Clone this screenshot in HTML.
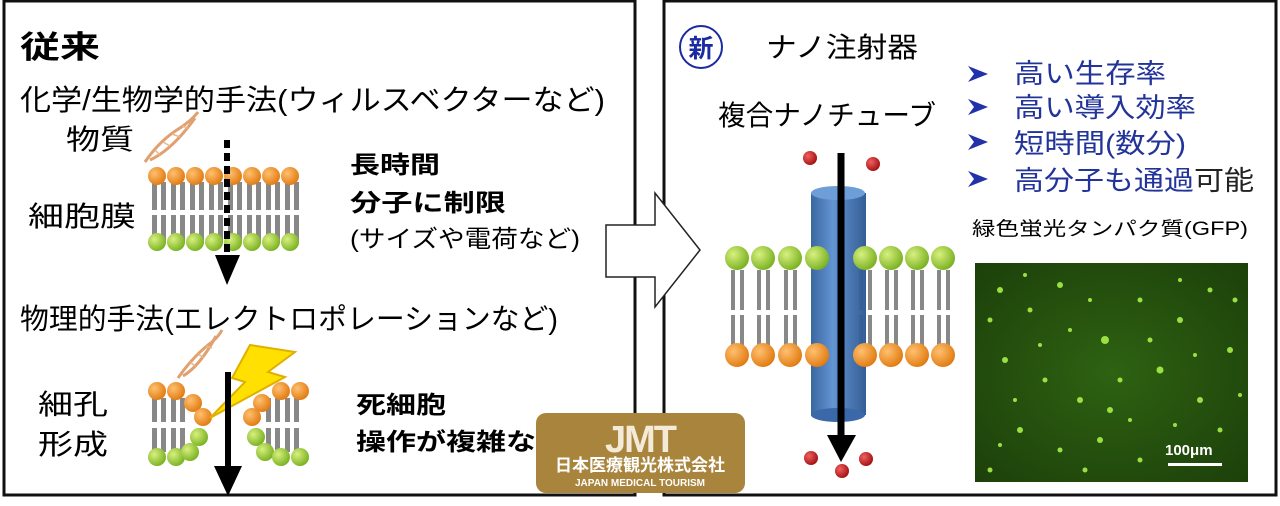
<!DOCTYPE html>
<html><head><meta charset="utf-8"><style>
body{margin:0;width:1280px;height:501px;background:#fff;overflow:hidden;font-family:"Liberation Sans","Noto Sans CJK JP",sans-serif;}
svg text{font-family:"Liberation Sans","Noto Sans CJK JP",sans-serif;}
</style></head><body>
<svg width="1280" height="501" viewBox="0 0 1280 501" xmlns="http://www.w3.org/2000/svg">
<defs>
<radialGradient id="og" cx="0.35" cy="0.35" r="0.7"><stop offset="0" stop-color="#ffc070"/><stop offset="1" stop-color="#e07a10"/></radialGradient>
<radialGradient id="gg" cx="0.35" cy="0.35" r="0.7"><stop offset="0" stop-color="#d8f080"/><stop offset="1" stop-color="#78b020"/></radialGradient>
<radialGradient id="rg" cx="0.35" cy="0.35" r="0.7"><stop offset="0" stop-color="#f06060"/><stop offset="1" stop-color="#a01010"/></radialGradient>
<linearGradient id="cyl" x1="0" x2="1"><stop offset="0" stop-color="#2f5f9a"/><stop offset="0.4" stop-color="#5b8fd0"/><stop offset="1" stop-color="#2a5590"/></linearGradient>
<radialGradient id="gfp" cx="0.5" cy="0.5" r="0.7"><stop offset="0" stop-color="#2e6212"/><stop offset="1" stop-color="#1c400a"/></radialGradient>
</defs>
<rect x="4" y="1" width="631" height="494" fill="#fff" stroke="#111" stroke-width="3"/>
<rect x="664" y="1" width="612" height="494" fill="#fff" stroke="#111" stroke-width="3"/>
<path d="M606 225 H655 V193 L700 250 L655 307 V277 H606 Z" fill="#fff" stroke="#222" stroke-width="1.5"/>

<text x="20" y="58" font-size="31" font-weight="bold" textLength="80" lengthAdjust="spacingAndGlyphs">従来</text>
<text x="20" y="110" font-size="29" textLength="585" lengthAdjust="spacingAndGlyphs">化学/生物学的手法(ウィルスベクターなど)</text>
<text x="66" y="149" font-size="28" textLength="68" lengthAdjust="spacingAndGlyphs">物質</text>
<text x="28" y="226" font-size="28" textLength="108" lengthAdjust="spacingAndGlyphs">細胞膜</text>
<text x="350" y="173" font-size="24" font-weight="bold" textLength="90" lengthAdjust="spacingAndGlyphs">長時間</text>
<text x="350" y="211" font-size="24" font-weight="bold" textLength="156" lengthAdjust="spacingAndGlyphs">分子に制限</text>
<text x="350" y="247" font-size="24" textLength="230" lengthAdjust="spacingAndGlyphs">(サイズや電荷など)</text>
<text x="20" y="329" font-size="29" textLength="538" lengthAdjust="spacingAndGlyphs">物理的手法(エレクトロポレーションなど)</text>
<text x="38" y="414" font-size="28" textLength="70" lengthAdjust="spacingAndGlyphs">細孔</text>
<text x="38" y="454" font-size="28" textLength="70" lengthAdjust="spacingAndGlyphs">形成</text>
<text x="356" y="413" font-size="24" font-weight="bold" textLength="90" lengthAdjust="spacingAndGlyphs">死細胞</text>
<text x="356" y="450" font-size="24" font-weight="bold" textLength="180" lengthAdjust="spacingAndGlyphs">操作が複雑な</text>

<g stroke="#e0a070" stroke-width="3" fill="none">
<path d="M145 162 Q160 140 180 128 Q192 120 198 112"/><path d="M150 160 Q172 150 195 118"/>
<path d="M178 378 Q192 358 208 345 Q218 338 222 330"/><path d="M183 376 Q200 366 216 336"/>
</g>
<g stroke="#e8b888" stroke-width="1.5"><line x1="155" y1="150" x2="160" y2="155"/><line x1="163" y1="142" x2="170" y2="146"/><line x1="172" y1="134" x2="180" y2="137"/><line x1="182" y1="126" x2="188" y2="128"/><line x1="190" y1="362" x2="195" y2="366"/><line x1="198" y1="354" x2="204" y2="358"/><line x1="206" y1="346" x2="212" y2="348"/></g>

<g id="m1"><g fill="#888">
<rect x="152" y="182" width="5" height="28"/><rect x="161" y="182" width="5" height="28"/>
<rect x="171" y="182" width="5" height="28"/><rect x="180" y="182" width="5" height="28"/>
<rect x="190" y="182" width="5" height="28"/><rect x="199" y="182" width="5" height="28"/>
<rect x="209" y="182" width="5" height="28"/><rect x="218" y="182" width="5" height="28"/>
<rect x="228" y="182" width="5" height="28"/><rect x="237" y="182" width="5" height="28"/>
<rect x="247" y="182" width="5" height="28"/><rect x="256" y="182" width="5" height="28"/>
<rect x="266" y="182" width="5" height="28"/><rect x="275" y="182" width="5" height="28"/>
<rect x="285" y="182" width="5" height="28"/><rect x="294" y="182" width="5" height="28"/>
</g></g>
<use href="#m1" y="33"/>
<g fill="url(#og)">
<circle cx="157" cy="176" r="9"/><circle cx="176" cy="176" r="9"/><circle cx="195" cy="176" r="9"/><circle cx="214" cy="176" r="9"/><circle cx="233" cy="176" r="9"/><circle cx="252" cy="176" r="9"/><circle cx="271" cy="176" r="9"/><circle cx="290" cy="176" r="9"/>
</g>
<g fill="url(#gg)">
<circle cx="157" cy="242" r="9"/><circle cx="176" cy="242" r="9"/><circle cx="195" cy="242" r="9"/><circle cx="214" cy="242" r="9"/><circle cx="233" cy="242" r="9"/><circle cx="252" cy="242" r="9"/><circle cx="271" cy="242" r="9"/><circle cx="290" cy="242" r="9"/>
</g>
<line x1="227" y1="140" x2="227" y2="258" stroke="#000" stroke-width="6" stroke-dasharray="8,5"/>
<path d="M215 255 H240 L227 285 Z" fill="#000"/>

<g fill="#888">
<rect x="152" y="398" width="5" height="24"/><rect x="161" y="398" width="5" height="24"/>
<rect x="171" y="398" width="5" height="24"/><rect x="180" y="398" width="5" height="24"/>
<rect x="152" y="428" width="5" height="24"/><rect x="161" y="428" width="5" height="24"/>
<rect x="171" y="428" width="5" height="24"/><rect x="180" y="428" width="5" height="24"/>
<rect x="285" y="398" width="5" height="24"/><rect x="294" y="398" width="5" height="24"/>
<rect x="266" y="398" width="5" height="24"/><rect x="275" y="398" width="5" height="24"/>
<rect x="285" y="428" width="5" height="24"/><rect x="294" y="428" width="5" height="24"/>
<rect x="266" y="428" width="5" height="24"/><rect x="275" y="428" width="5" height="24"/>
</g>
<g fill="url(#og)"><circle cx="157" cy="391" r="9"/><circle cx="176" cy="391" r="9"/><circle cx="193" cy="403" r="9"/><circle cx="203" cy="417" r="9"/><circle cx="252" cy="417" r="9"/><circle cx="262" cy="403" r="9"/><circle cx="281" cy="391" r="9"/><circle cx="300" cy="391" r="9"/></g>
<g fill="url(#gg)"><circle cx="157" cy="457" r="9"/><circle cx="176" cy="457" r="9"/><circle cx="199" cy="437" r="9"/><circle cx="190" cy="452" r="9"/><circle cx="256" cy="437" r="9"/><circle cx="265" cy="452" r="9"/><circle cx="281" cy="457" r="9"/><circle cx="300" cy="457" r="9"/></g>
<path d="M250 345 L295 352 L268 372 L285 377 L210 418 L245 382 L232 378 Z" fill="#ffe000" stroke="#e0b000" stroke-width="2"/>
<line x1="228" y1="372" x2="228" y2="470" stroke="#000" stroke-width="6"/>
<path d="M214 466 H242 L228 496 Z" fill="#000"/>

<circle cx="701" cy="47" r="21" fill="#fff" stroke="#1a2aa0" stroke-width="2"/>
<text x="701" y="57" font-size="25" font-weight="bold" fill="#1a2aa0" text-anchor="middle">新</text>
<text x="766" y="57" font-size="28" textLength="152" lengthAdjust="spacingAndGlyphs">ナノ注射器</text>
<text x="718" y="125" font-size="28" textLength="218" lengthAdjust="spacingAndGlyphs">複合ナノチューブ</text>
<g font-size="27" fill="#223399">
<text x="1014" y="83" textLength="152" lengthAdjust="spacingAndGlyphs">高い生存率</text>
<text x="1014" y="117" textLength="182" lengthAdjust="spacingAndGlyphs">高い導入効率</text>
<text x="1014" y="153" textLength="172" lengthAdjust="spacingAndGlyphs">短時間(数分)</text>
<text x="1014" y="190" textLength="240" lengthAdjust="spacingAndGlyphs">高分子も通過<tspan fill="#222">可能</tspan></text>
</g>
<g fill="#2233aa">
<path d="M968 66 L988 74 L968 82 L974 74 Z"/><path d="M968 99 L988 107 L968 115 L974 107 Z"/>
<path d="M968 134 L988 142 L968 150 L974 142 Z"/><path d="M968 171 L988 179 L968 187 L974 179 Z"/>
</g>
<text x="972" y="235" font-size="19" textLength="276" lengthAdjust="spacingAndGlyphs">緑色蛍光タンパク質(GFP)</text>

<g fill="#888">
<rect x="731" y="270" width="4" height="40"/><rect x="740" y="270" width="4" height="40"/>
<rect x="757" y="270" width="4" height="40"/><rect x="766" y="270" width="4" height="40"/>
<rect x="784" y="270" width="4" height="40"/><rect x="793" y="270" width="4" height="40"/>
<rect x="859" y="270" width="4" height="40"/><rect x="868" y="270" width="4" height="40"/>
<rect x="885" y="270" width="4" height="40"/><rect x="894" y="270" width="4" height="40"/>
<rect x="911" y="270" width="4" height="40"/><rect x="920" y="270" width="4" height="40"/>
<rect x="937" y="270" width="4" height="40"/><rect x="946" y="270" width="4" height="40"/>
<rect x="731" y="315" width="4" height="36"/><rect x="740" y="315" width="4" height="36"/>
<rect x="757" y="315" width="4" height="36"/><rect x="766" y="315" width="4" height="36"/>
<rect x="784" y="315" width="4" height="36"/><rect x="793" y="315" width="4" height="36"/>
<rect x="859" y="315" width="4" height="36"/><rect x="868" y="315" width="4" height="36"/>
<rect x="885" y="315" width="4" height="36"/><rect x="894" y="315" width="4" height="36"/>
<rect x="911" y="315" width="4" height="36"/><rect x="920" y="315" width="4" height="36"/>
<rect x="937" y="315" width="4" height="36"/><rect x="946" y="315" width="4" height="36"/>
</g>
<rect x="811" y="193" width="55" height="222" fill="url(#cyl)" opacity="0.95"/>
<ellipse cx="838" cy="193" rx="27" ry="7" fill="#6e9ed8"/>
<ellipse cx="838" cy="415" rx="27" ry="7" fill="#3a68a8"/>
<g fill="url(#gg)"><circle cx="737" cy="258" r="12"/><circle cx="763" cy="258" r="12"/><circle cx="790" cy="258" r="12"/><circle cx="817" cy="258" r="12"/><circle cx="865" cy="258" r="12"/><circle cx="891" cy="258" r="12"/><circle cx="917" cy="258" r="12"/><circle cx="943" cy="258" r="12"/></g>
<g fill="url(#og)"><circle cx="737" cy="355" r="12"/><circle cx="763" cy="355" r="12"/><circle cx="790" cy="355" r="12"/><circle cx="817" cy="355" r="12"/><circle cx="865" cy="355" r="12"/><circle cx="891" cy="355" r="12"/><circle cx="917" cy="355" r="12"/><circle cx="943" cy="355" r="12"/></g>
<line x1="841" y1="153" x2="841" y2="440" stroke="#000" stroke-width="7"/>
<path d="M827 435 H856 L841 462 Z" fill="#000"/>
<g fill="url(#rg)"><circle cx="810" cy="158" r="7"/><circle cx="873" cy="164" r="7"/><circle cx="811" cy="458" r="7"/><circle cx="842" cy="471" r="7"/><circle cx="866" cy="459" r="7"/></g>

<rect x="975" y="263" width="273" height="219" fill="url(#gfp)"/>
<g fill="#a8f048" opacity="0.9">
<circle cx="1000" cy="290" r="3"/><circle cx="1030" cy="310" r="2.5"/><circle cx="1060" cy="285" r="3"/><circle cx="1105" cy="340" r="4"/><circle cx="1140" cy="300" r="2.5"/><circle cx="1180" cy="320" r="3"/><circle cx="1210" cy="290" r="2.5"/><circle cx="1230" cy="350" r="3"/><circle cx="1005" cy="360" r="3"/><circle cx="1045" cy="380" r="2.5"/><circle cx="1080" cy="400" r="3"/><circle cx="1120" cy="380" r="2.5"/><circle cx="1160" cy="370" r="3.5"/><circle cx="1200" cy="400" r="3"/><circle cx="1020" cy="430" r="3"/><circle cx="1060" cy="450" r="2.5"/><circle cx="1100" cy="440" r="3"/><circle cx="1140" cy="460" r="2.5"/><circle cx="990" cy="470" r="2.5"/><circle cx="1220" cy="430" r="2.5"/><circle cx="1070" cy="330" r="2"/><circle cx="1180" cy="280" r="2"/><circle cx="1130" cy="420" r="2"/><circle cx="1015" cy="400" r="2"/>
<circle cx="990" cy="320" r="2.5"/><circle cx="1090" cy="300" r="2"/><circle cx="1150" cy="340" r="2.5"/><circle cx="1195" cy="355" r="2"/><circle cx="1235" cy="300" r="2.5"/><circle cx="1040" cy="345" r="2"/><circle cx="1110" cy="410" r="3"/><circle cx="1175" cy="425" r="2"/><circle cx="1000" cy="445" r="2"/><circle cx="1085" cy="470" r="2.5"/><circle cx="1240" cy="395" r="2"/><circle cx="1025" cy="275" r="2"/>
</g>
<text x="1165" y="455" font-size="15" font-weight="bold" fill="#fff">100μm</text>
<rect x="1168" y="463" width="54" height="3" fill="#fff"/>

<rect x="536" y="413" width="209" height="80" rx="10" fill="#a8843c"/>
<text x="640" y="452" font-size="38" font-weight="bold" fill="#f3ead8" text-anchor="middle" letter-spacing="-2">JMT</text>
<text x="640" y="471" font-size="17" font-weight="bold" fill="#fff" text-anchor="middle">日本医療観光株式会社</text>
<text x="640" y="486" font-size="10" font-weight="bold" fill="#fff" text-anchor="middle">JAPAN MEDICAL TOURISM</text>
</svg>
</body></html>
